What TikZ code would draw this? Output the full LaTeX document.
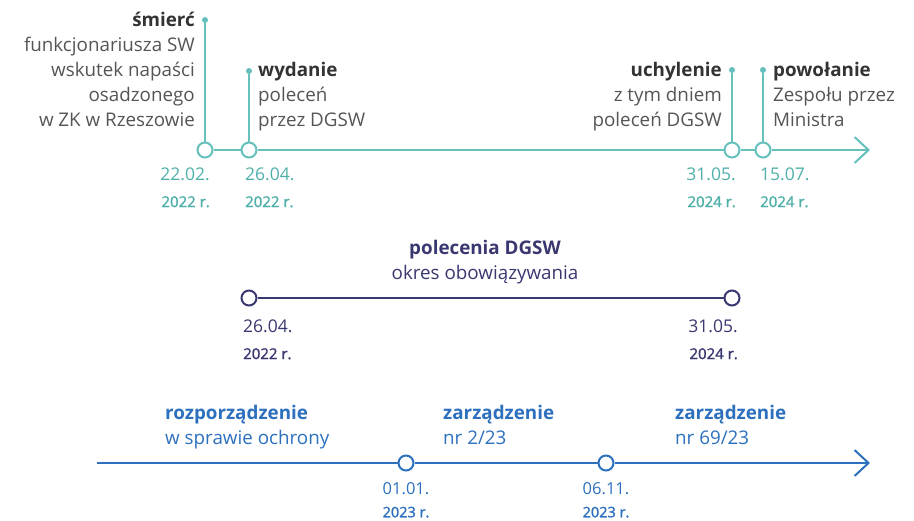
\documentclass[tikz,border=0pt]{standalone}
\usepackage{fontspec}
\setmainfont{Open Sans}
\newfontfamily\yrfont{Open Sans}[FakeBold=1.5]
\usetikzlibrary{arrows.meta}
\definecolor{teal1}{HTML}{66C0BC}
\definecolor{tealtxt}{HTML}{4FB0AA}
\definecolor{navy1}{HTML}{3A3870}
\definecolor{blue1}{HTML}{2C70BE}
\definecolor{txtgray}{HTML}{555555}
\definecolor{txtdark}{HTML}{333333}
\begin{document}
\begin{tikzpicture}[x=1pt,y=-1pt,
  ring/.style={circle,draw=#1,line width=2pt,fill=white,minimum size=15pt,inner sep=0pt},
  pin/.style={circle,fill=teal1,minimum size=6pt,inner sep=0pt},
  tline/.style={draw=#1,line width=2pt},
  desc/.style={inner sep=0pt,font=\fontsize{18.8}{25}\selectfont,text=txtgray},
  datel/.style={inner sep=0pt,font=\fontsize{17.5}{27}\selectfont,text=#1},
  tip/.style={-{Straight Barb[length=14pt,width=26pt,line width=2pt]}}
]
\fill[white] (0,0) rectangle (914,520);
\useasboundingbox (0,0) rectangle (914,520);

% ---------- top timeline ----------
\node[pin] (p1) at (205,20) {};
\node[pin] (p2) at (249,71) {};
\node[pin] (p3) at (732,70) {};
\node[pin] (p4) at (763,70) {};
\coordinate (tend) at (870,150);
\draw[tline=teal1] (p1) -- (205,150);
\draw[tline=teal1] (p2) -- (249,150);
\draw[tline=teal1] (p3) -- (732,150);
\draw[tline=teal1] (p4) -- (763,150);
\node[ring=teal1] (a1) at (205,150) {};
\node[ring=teal1] (a2) at (249,150) {};
\node[ring=teal1] (a3) at (732,150) {};
\node[ring=teal1] (a4) at (763,150) {};
\draw[tline=teal1] (a1) -- (a2);
\draw[tline=teal1] (a2) -- (a3);
\draw[tline=teal1] (a3) -- (a4);
\draw[tline=teal1,tip] (a4) -- (tend);

\node[desc,anchor=north east,align=right] (t1) at (195,8.5)
  {\strut{\bfseries\color{txtdark}śmierć}\\funkcjonariusza SW\\wskutek napaści\\osadzonego\\w ZK w Rzeszowie};
\node[desc,anchor=north west,align=left] (t2) at (258,58.5)
  {\strut{\bfseries\color{txtdark}wydanie}\\poleceń\\przez DGSW};
\node[desc,anchor=north east,align=right] (t3) at (722,58.5)
  {\strut{\bfseries\color{txtdark}uchylenie}\\z tym dniem\\poleceń DGSW};
\node[desc,anchor=north west,align=left] (t4) at (773,58.5)
  {\strut{\bfseries\color{txtdark}powołanie}\\Zespołu przez\\Ministra};

\node[datel=tealtxt,anchor=north east,align=right] (d1) at (210,161)
  {\strut 22.02.\\{\yrfont\fontsize{15}{27}\selectfont 2022 r.}};
\node[datel=tealtxt,anchor=north west,align=left] (d2) at (245,161)
  {\strut 26.04.\\{\yrfont\fontsize{15}{27}\selectfont 2022 r.}};
\node[datel=tealtxt,anchor=north east,align=right] (d3) at (736,161)
  {\strut 31.05.\\{\yrfont\fontsize{15}{27}\selectfont 2024 r.}};
\node[datel=tealtxt,anchor=north west,align=left] (d4) at (760,161)
  {\strut 15.07.\\{\yrfont\fontsize{15}{27}\selectfont 2024 r.}};

% ---------- middle ----------
\node[ring=navy1] (m1) at (249,298) {};
\node[ring=navy1] (m2) at (732,298) {};
\draw[tline=navy1] (m1) -- (m2);
\node[desc,text=navy1,anchor=north,align=center] (mt) at (485,236.5)
  {\strut{\bfseries polecenia DGSW}\\okres obowiązywania};
\node[datel=navy1,anchor=north west,align=left] (md1) at (243,313)
  {\strut 26.04.\\{\yrfont\fontsize{15}{27}\selectfont 2022 r.}};
\node[datel=navy1,anchor=north east,align=right] (md2) at (738,313)
  {\strut 31.05.\\{\yrfont\fontsize{15}{27}\selectfont 2024 r.}};

% ---------- bottom ----------
\coordinate (bstart) at (97,463);
\coordinate (bend) at (870,463);
\node[ring=blue1] (b1) at (406,463) {};
\node[ring=blue1] (b2) at (606,463) {};
\draw[tline=blue1] (bstart) -- (b1);
\draw[tline=blue1] (b1) -- (b2);
\draw[tline=blue1,tip] (b2) -- (bend);
\node[desc,text=blue1,anchor=north west,align=left] (bt1) at (165,401.5)
  {\strut{\bfseries rozporządzenie}\\w sprawie ochrony};
\node[desc,text=blue1,anchor=north west,align=left] (bt2) at (443,401.5)
  {\strut{\bfseries zarządzenie}\\nr 2/23};
\node[desc,text=blue1,anchor=north west,align=left] (bt3) at (675,401.5)
  {\strut{\bfseries zarządzenie}\\nr 69/23};
\node[datel=blue1,anchor=north,align=center,font=\fontsize{16.5}{23}\selectfont] (bd1) at (406,478)
  {\strut 01.01.\\{\yrfont\fontsize{14.5}{23}\selectfont 2023 r.}};
\node[datel=blue1,anchor=north,align=center,font=\fontsize{16.5}{23}\selectfont] (bd2) at (606,478)
  {\strut 06.11.\\{\yrfont\fontsize{14.5}{23}\selectfont 2023 r.}};
\end{tikzpicture}
\end{document}
